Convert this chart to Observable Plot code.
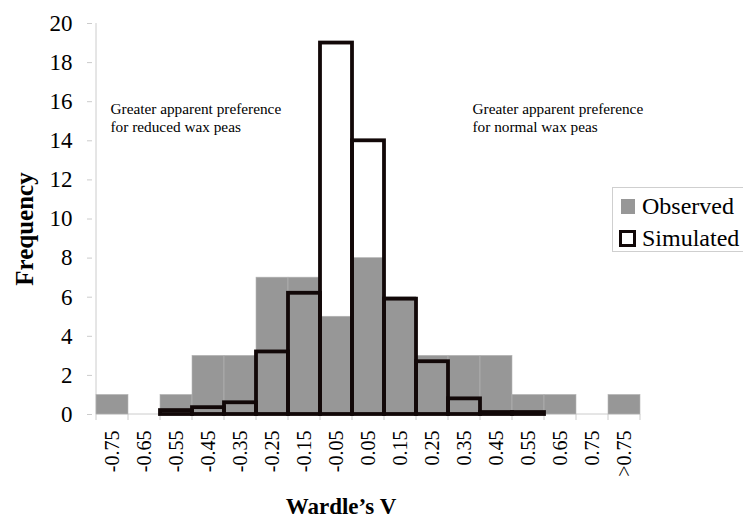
<!DOCTYPE html>
<html>
<head>
<meta charset="utf-8">
<script src="https://cdn.jsdelivr.net/npm/d3@7"></script>
<script src="https://cdn.jsdelivr.net/npm/@observablehq/plot@0.6"></script>
<style>
  html, body { margin: 0; padding: 0; background: #fff; }
  #wrap { position: relative; width: 743px; height: 519px; font-family: 'Liberation Serif', 'DejaVu Serif', serif; }
  #wrap svg, #wrap svg text { font-family: 'Liberation Serif', 'DejaVu Serif', serif !important; }
  #legend { position: absolute; left: 612px; top: 187px; width: 135px; height: 65px; border: 1px solid #cfcfcf; box-sizing: border-box; background: #fff; font-family: 'Liberation Serif', 'DejaVu Serif', serif; }
  .item { position: absolute; left: 0; font-size: 24px; line-height: 1; color: #000; white-space: nowrap; }
  .sw { position: absolute; }
</style>
</head>
<body>
<div id="wrap"></div>
<script>
const categories = ["-0.75","-0.65","-0.55","-0.45","-0.35","-0.25","-0.15","-0.05","0.05","0.15","0.25","0.35","0.45","0.55","0.65","0.75",">0.75"];
const observed  = [1, 0, 1, 3, 3, 7, 7, 5, 8, 6, 3, 3, 3, 1, 1, 0, 1];
const simulated = [0, 0, 0.2, 0.35, 0.6, 3.2, 6.2, 19, 14, 5.9, 2.7, 0.8, 0.1, 0.1, 0, 0, 0];
const yTicks = [0, 2, 4, 6, 8, 10, 12, 14, 16, 18, 20];
const seriesNames = ["Observed", "Simulated"];
const annotations = ["Greater apparent preference\nfor reduced wax peas", "Greater apparent preference\nfor normal wax peas"];
const xTitle = "Wardle\u2019s V";
const yTitle = "Frequency";

const rows = categories.map((c, i) => ({cat: c, obs: observed[i], sim: simulated[i]}));
const FONT = "'Liberation Serif', 'DejaVu Serif', serif";
const GRAY = "#979797";
const AXIS = "#cccccc";

const plot = Plot.plot({
  width: 743,
  height: 519,
  marginLeft: 92,
  marginRight: 100,
  marginTop: 23,
  marginBottom: 105,
  style: {fontFamily: FONT, background: "#fff", color: "#000"},
  x: {type: "band", domain: categories, padding: 0},
  y: {domain: [0, 20]},
  marks: [
    Plot.barY(rows, {x: "cat", y: "obs", fill: GRAY, stroke: "#b5b5b5", strokeWidth: 0.6}),
    Plot.barY(rows.filter(d => d.sim > 0), {x: "cat", y: "sim", fill: "none", stroke: "#120808", strokeWidth: 3.8}),
    Plot.axisY({ticks: yTicks, tickSize: 5, tickPadding: 15, stroke: AXIS, fill: "#000", fontSize: 23, label: null}),
    Plot.axisX({tickRotate: -90, tickSize: 0, tickPadding: 16, fill: "#000", fontSize: 20, label: null}),
    Plot.text([yTitle], {frameAnchor: "left", dx: -68, dy: 10, rotate: -90, fontSize: 25, fontWeight: "bold", textAnchor: "middle", lineAnchor: "middle", fill: "#000"}),
    Plot.text([xTitle], {frameAnchor: "bottom", dx: -27, dy: 92, fontSize: 23, fontWeight: "bold", textAnchor: "middle", lineAnchor: "middle", fill: "#000"}),
    Plot.text([annotations[0]], {frameAnchor: "top-left", dx: 18, dy: 77, textAnchor: "start", lineAnchor: "top", fontSize: 15.3, lineHeight: 1.2, fill: "#000"}),
    Plot.text([annotations[1]], {frameAnchor: "top-left", dx: 380, dy: 77, textAnchor: "start", lineAnchor: "top", fontSize: 15.3, lineHeight: 1.2, fill: "#000"})
  ]
});

const xs = plot.scale("x"), ys = plot.scale("y");
const svg = d3.select(plot);
const y0 = ys.apply(0), yTop = ys.apply(20);
const left = xs.apply(categories[0]);
const right = xs.apply(categories[categories.length - 1]) + xs.bandwidth;
const g = svg.insert("g", ":first-child").attr("stroke", AXIS).attr("stroke-width", 1);
g.append("line").attr("x1", left).attr("x2", left).attr("y1", yTop).attr("y2", y0);
g.append("line").attr("x1", left).attr("x2", right).attr("y1", y0).attr("y2", y0);
const bounds = categories.map(c => xs.apply(c)).concat([right]);
g.selectAll("line.b").data(bounds).join("line").attr("class", "b")
  .attr("x1", d => d).attr("x2", d => d).attr("y1", y0).attr("y2", y0 + 6);

const wrap = document.getElementById("wrap");
wrap.appendChild(plot);

const legend = document.createElement("div");
legend.id = "legend";
legend.innerHTML = `
  <div class="sw" style="left:8px;top:11px;width:14px;height:15px;background:${GRAY}"></div>
  <div class="item" style="left:29px;top:6px">${seriesNames[0]}</div>
  <div class="sw" style="left:6px;top:42px;width:11px;height:11px;border:3.5px solid #120808;background:#fff"></div>
  <div class="item" style="left:29px;top:38px">${seriesNames[1]}</div>`;
wrap.appendChild(legend);
</script>
</body>
</html>
